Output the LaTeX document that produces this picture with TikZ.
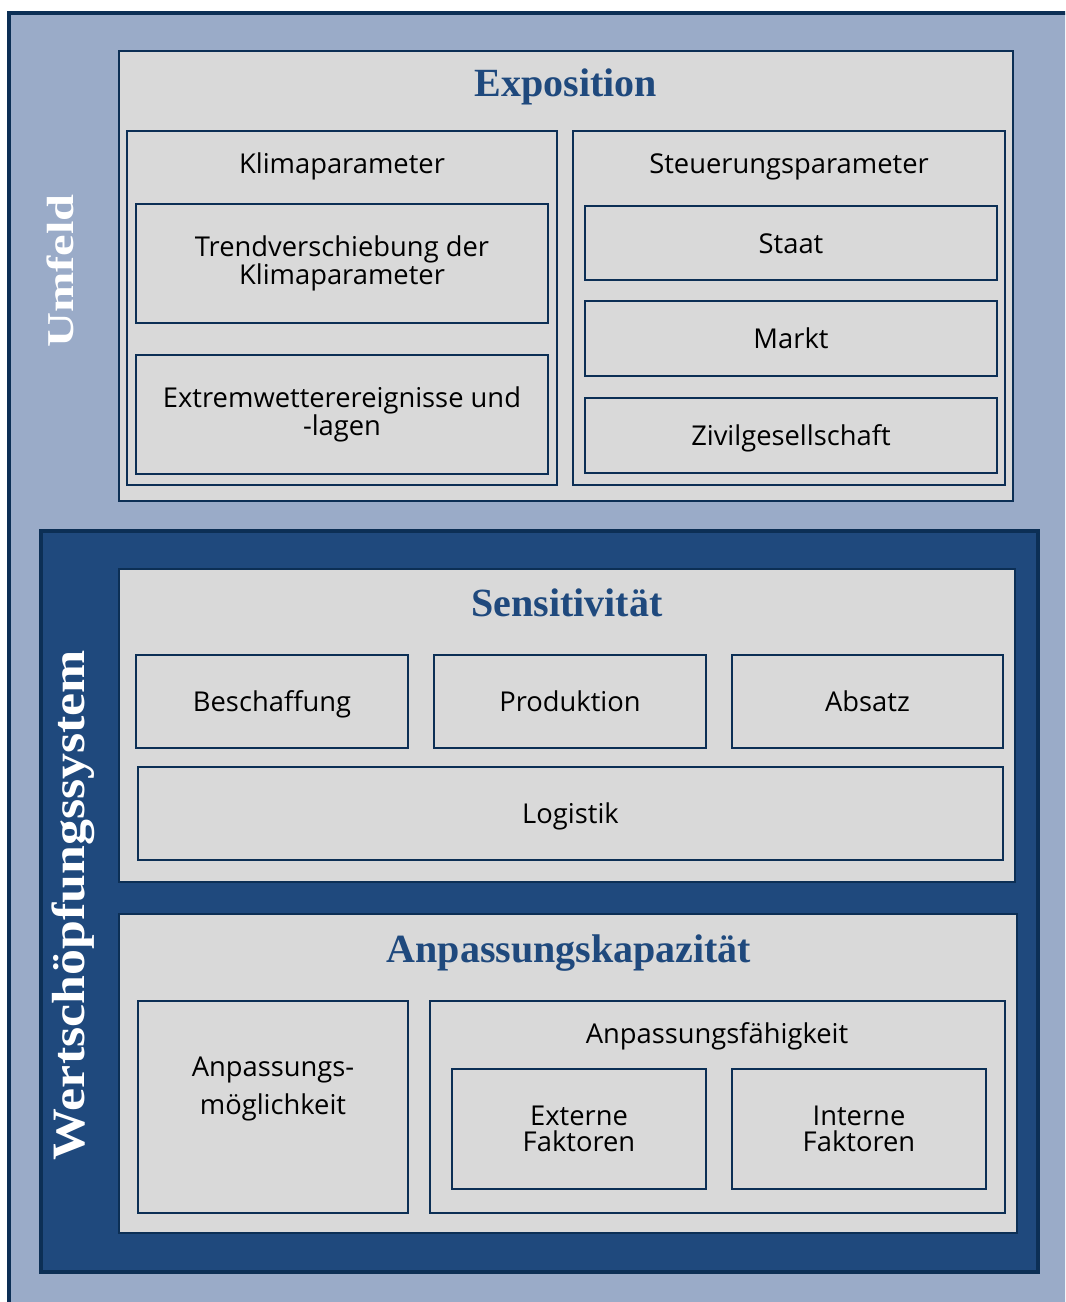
\documentclass[tikz,border=0pt]{standalone}
\usepackage{graphicx}
\usepackage{fontspec}
\setmainfont{Open Sans}
\newfontfamily\titlefont{Liberation Serif}
\definecolor{frame}{HTML}{0C2F55}
\definecolor{lightblue}{HTML}{9AABC8}
\definecolor{darkblue}{HTML}{1F497D}
\definecolor{panel}{HTML}{D9D9D9}
\definecolor{titleblue}{HTML}{1F497D}
\newcommand\bodysize{\fontsize{20.5}{20}\selectfont}
\newcommand\pbox[7]{\node[#6, minimum width={(#4-#2)*0.75pt}, minimum height={(#5-#3)*0.75pt}] (#1) at ({(#2+#4)/2},{(#3+#5)/2}) {#7};}
\tikzset{
  outerframe/.style={rectangle, draw=frame, line width=3pt, fill=lightblue, inner sep=0pt},
  sysframe/.style={rectangle, draw=frame, line width=3pt, fill=darkblue, inner sep=0pt},
  panelbox/.style={rectangle, draw=frame, line width=2pt, fill=panel, inner sep=0pt},
  itembox/.style={panelbox, font=\bodysize, align=center},
  oneline/.style={itembox, text height=16.5pt, text depth=1.5pt},
  titletext/.style={font=\titlefont\bfseries\fontsize{30}{31}\selectfont, text=titleblue, inner sep=0pt, anchor=base},
  headtext/.style={font=\bodysize, inner sep=0pt, anchor=base, align=center},
  sidetext/.style={rotate=90, inner sep=0pt, anchor=base, text=white, font=\titlefont\bfseries}
}
\begin{document}
\begin{tikzpicture}[x=0.75pt, y=-0.75pt]
\useasboundingbox (0,0) rectangle (1065,1302);
\clip (0,0) rectangle (1065,1302);
% Umfeld
\pbox{umfeld}{9}{13}{1085}{1320}{outerframe}{}
\node[sidetext] (umfeldlabel) at (73,271) {\resizebox{115pt}{20pt}{Umfeld}};
% Exposition
\pbox{expo}{119}{51}{1013}{501}{panelbox}{}
\node[titletext] (expotitle) at (566,97) {Exposition};
\pbox{klima}{127}{131}{557}{485}{panelbox}{}
\node[headtext] (klimatitle) at (342,174) {Klimaparameter};
\pbox{trend}{136}{204}{548}{323}{itembox}{Trendverschiebung der\\Klimaparameter}
\pbox{extrem}{136}{355}{548}{474}{itembox}{Extremwetterereignisse und\\-lagen}
\pbox{steuer}{573}{131}{1005}{485}{panelbox}{}
\node[headtext] (steuertitle) at (789,174) {Steuerungsparameter};
\pbox{staat}{585}{206}{997}{280}{oneline}{Staat}
\pbox{markt}{585}{301}{997}{376}{oneline}{Markt}
\pbox{zivil}{585}{398}{997}{473}{oneline}{Zivilgesellschaft}
% Wertschoepfungssystem
\pbox{wsys}{41}{531}{1038}{1272}{sysframe}{}
\node[sidetext] (wsyslabel) at (84,905) {\resizebox{382.5pt}{24.5pt}{Wertschöpfungssystem}};
% Sensitivitaet
\pbox{sens}{119}{569}{1015}{882}{panelbox}{}
\node[titletext] (senstitle) at (567,616) {Sensitivität};
\pbox{besch}{136}{655}{408}{748}{oneline}{Beschaffung}
\pbox{prod}{434}{655}{706}{748}{oneline}{Produktion}
\pbox{absatz}{732}{655}{1003}{748}{oneline}{Absatz}
\pbox{logistik}{138}{767}{1003}{860}{oneline}{Logistik}
% Anpassungskapazitaet
\pbox{anpk}{119}{914}{1017}{1233}{panelbox}{}
\node[titletext] (anpktitle) at (569,962) {Anpassungskapazität};
\pbox{moegl}{138}{1001}{408}{1213}{panelbox}{}
\node[font=\fontsize{20.5}{28.5}\selectfont, align=center, inner sep=0pt] (moegltext) at (273,1089) {Anpassungs-\\möglichkeit};
\pbox{faehig}{430}{1001}{1005}{1213}{panelbox}{}
\node[headtext] (faehigtitle) at (717,1043) {Anpassungsfähigkeit};
\pbox{extern}{452}{1069}{706}{1189}{itembox}{Externe\\Faktoren}
\pbox{intern}{732}{1069}{986}{1189}{itembox}{Interne\\Faktoren}
\end{tikzpicture}
\end{document}
